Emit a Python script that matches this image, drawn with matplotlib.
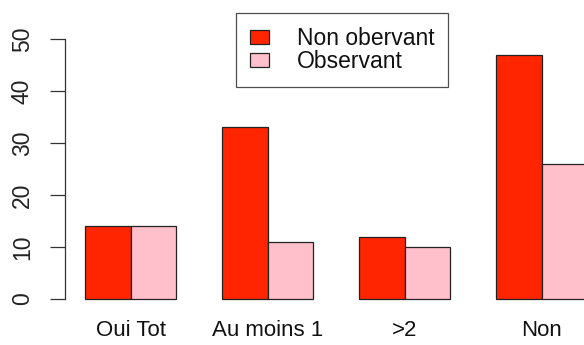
import matplotlib
matplotlib.use("Agg")
import matplotlib.pyplot as plt
import numpy as np

categories = ["Oui Tot", "Au moins 1", ">2", "Non"]
non_observant = [14, 33, 12, 47]
observant = [14, 11, 10, 26]
series_labels = ["Non obervant", "Observant"]
yticks = [0, 10, 20, 30, 40, 50]

plt.rcParams['font.family'] = ['Liberation Sans', 'DejaVu Sans']
FS = 16.5

W, H = 584, 345
fig = plt.figure(figsize=(W / 100, H / 100), dpi=100)
# plot region in pixels: x 64.9..607.5, y 13.3..310 (from top)
left, right, top, bottom = 64.9, 607.5, 13.3, 310.0
ax = fig.add_axes([left / W, 1 - bottom / H, (right - left) / W, (bottom - top) / H])

n = len(categories)
x_red = np.array([1 + 3 * i for i in range(n)], dtype=float)
x_pink = x_red + 1
ax.bar(x_red, non_observant, width=1, align='edge', color='#FF2500',
       edgecolor='#222222', linewidth=0.9, label=series_labels[0])
ax.bar(x_pink, observant, width=1, align='edge', color='#FFC0CB',
       edgecolor='#222222', linewidth=0.9, label=series_labels[1])

Y = 52.83
ax.set_ylim(-0.04 * Y, 1.04 * Y)
ax.set_xlim(0.56, 12.44)

for s in ['top', 'right', 'bottom']:
    ax.spines[s].set_visible(False)
ax.spines['left'].set_bounds(0, 50)
ax.spines['left'].set_color('#333333')
ax.spines['left'].set_linewidth(0.9)

ax.set_yticks(yticks)
ax.set_yticklabels([str(t) for t in yticks], rotation=90, va='center', fontsize=FS, color='#222222')
ax.tick_params(axis='y', direction='out', length=10.8, width=0.9, color='#333333', pad=11.5)

ax.set_xticks(x_red + 1)
ax.set_xticklabels(categories, fontsize=16, color='#111111')
ax.tick_params(axis='x', length=0, pad=7)

leg = ax.legend(loc='upper center', bbox_to_anchor=(0.511, 1.0), borderaxespad=0,
                fontsize=FS, frameon=True, fancybox=False, edgecolor='#222222',
                handlelength=0.86, handleheight=0.54, handletextpad=1.2,
                borderpad=0.6, labelspacing=0.0)
leg.get_frame().set_linewidth(0.9)
for t in leg.get_texts():
    t.set_color('#111111')

fig.savefig("out.png", dpi=100)
